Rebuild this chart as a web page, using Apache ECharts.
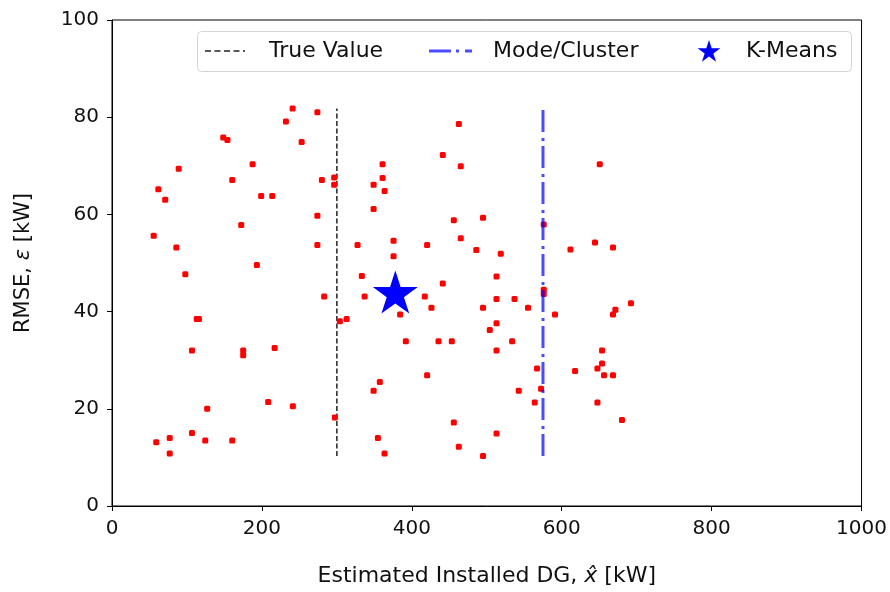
<!DOCTYPE html>
<html>
<head>
<meta charset="utf-8">
<script src="https://cdn.jsdelivr.net/npm/echarts@6/dist/echarts.min.js"></script>
<style>
  html, body { margin: 0; padding: 0; background: #fff; }
  #main { width: 890px; height: 592px; }
</style>
</head>
<body>
<div id="main"></div>
<script>
// estimated installed DG (kW) for each run
var estX = [
  241, 232, 253, 148.4, 154, 89, 187.6, 160.4, 61.8, 71,
  199, 213.8, 172.4, 55.6, 85.8, 193.3, 97.8, 274, 462.7, 361,
  441.3, 465.3, 280, 296.4, 296.4, 361, 349, 363.7, 349, 274,
  456, 495, 274, 327.6, 375.6, 420.4, 465.3, 486, 375.6, 333.3,
  441.3, 650.7, 576, 518.7, 611.6, 644.4, 668.4, 513, 576, 576,
  513, 537, 495, 555, 692.4, 671.6, 668.4, 591, 513, 504,
  533.8, 513, 653.8, 653.8, 647.6, 567, 617.8, 656.4, 668.4, 572.4,
  542.7, 564, 647.6, 680.4, 513, 495, 283, 337, 417.3, 426.2,
  384.4, 304, 313, 392, 435.6, 453.3, 420.4, 357.3, 349, 241.3,
  297.3, 456, 354.7, 462.7, 363.6, 113, 116, 106.7, 175, 175,
  217, 208.4, 127, 59, 77, 77, 106.7, 124.4, 160.4
];
// RMSE (kW) for each run
var rmseY = [
  81.8, 79.1, 74.9, 75.8, 75.3, 69.4, 70.3, 67.1, 65.2, 63,
  63.8, 63.8, 57.8, 55.6, 53.2, 49.6, 47.7, 81, 78.6, 70.3,
  72.2, 69.9, 67.1, 67.6, 66.1, 67.5, 66.1, 64.8, 61.1, 59.7,
  58.8, 59.3, 53.7, 53.7, 54.6, 53.7, 55.1, 52.7, 51.4, 47.3,
  45.8, 70.3, 57.9, 51.9, 52.8, 54.2, 53.2, 47.2, 44.5, 43.6,
  42.6, 42.6, 40.8, 40.8, 41.7, 40.4, 39.4, 39.4, 37.6, 36.2,
  33.9, 32, 32, 29.3, 28.3, 28.3, 27.8, 26.9, 26.9, 24.1,
  23.7, 21.3, 21.3, 17.7, 14.9, 10.3, 43.1, 43.1, 43.1, 40.8,
  39.4, 38, 38.5, 33.9, 33.9, 33.9, 26.9, 25.5, 23.7, 20.5,
  18.2, 17.2, 14, 12.2, 10.8, 38.5, 38.5, 32, 32, 31,
  32.5, 21.4, 20, 13.1, 14, 10.8, 15, 13.5, 13.5
];
var trueValue = 300;
var modeCluster = 575;
var lineSpan = [10.3, 81.8];
var kMeans = [378, 43.6];
var xTicks = { min: 0, max: 1000, interval: 200 };
var yTicks = { min: 0, max: 100, interval: 20 };

var FONT = 'DejaVu Sans';
var STAR = 'path://M50,0 L61.2,34.5 L97.6,34.5 L68.2,55.9 L79.4,90.5 L50,69.1 L20.6,90.5 L31.8,55.9 L2.4,34.5 L38.8,34.5 Z';

// small star polygon for the legend icon
function starPoints(cx, cy, r) {
  var pts = [];
  for (var k = 0; k < 10; k++) {
    var rr = k % 2 === 0 ? r : r * 0.382;
    var a = -Math.PI / 2 + k * Math.PI / 5;
    pts.push([cx + rr * Math.cos(a), cy + rr * Math.sin(a)]);
  }
  return pts;
}

var points = estX.map(function (x, i) { return [x, rmseY[i]]; });

var myChart = echarts.init(document.getElementById('main'));

var legendFont = '22px "DejaVu Sans"';
var plain = function (v) { return String(v); };

var option = {
  animation: false,
  grid: {
    left: 112, right: 28, top: 20, bottom: 84,
    show: true, borderColor: '#000', borderWidth: 1
  },
  xAxis: {
    type: 'value',
    min: xTicks.min, max: xTicks.max, interval: xTicks.interval,
    name: 'Estimated Installed DG, {i|x̂} [kW]',
    nameLocation: 'middle',
    nameGap: 59,
    nameTextStyle: {
      fontFamily: FONT, fontSize: 22, color: '#111',
      rich: { i: { fontFamily: FONT, fontSize: 22, fontStyle: 'italic', color: '#111' } }
    },
    axisLine: { show: true, lineStyle: { color: '#000', width: 1 } },
    axisTick: { show: true, inside: false, length: 5, lineStyle: { color: '#000' } },
    axisLabel: { fontFamily: FONT, fontSize: 20, color: '#111', margin: 13, formatter: plain },
    splitLine: { show: false }
  },
  yAxis: {
    type: 'value',
    min: yTicks.min, max: yTicks.max, interval: yTicks.interval,
    name: 'RMSE, {i|ε} [kW]',
    nameLocation: 'middle',
    nameGap: 78,
    nameTextStyle: {
      fontFamily: FONT, fontSize: 21, color: '#111',
      rich: { i: { fontFamily: FONT, fontSize: 21, fontStyle: 'italic', color: '#111' } }
    },
    axisLine: { show: true, lineStyle: { color: '#000', width: 1 } },
    axisTick: { show: true, inside: false, length: 5, lineStyle: { color: '#000' } },
    axisLabel: { fontFamily: FONT, fontSize: 20, color: '#111', margin: 13, formatter: plain },
    splitLine: { show: false }
  },
  series: [
    {
      name: 'Estimates',
      type: 'scatter',
      data: points,
      symbol: 'roundRect',
      symbolSize: 6,
      itemStyle: { color: '#ff0000', opacity: 1 },
      z: 3
    },
    {
      name: 'True Value',
      type: 'line',
      data: [[trueValue, lineSpan[0]], [trueValue, lineSpan[1]]],
      symbol: 'none',
      lineStyle: { color: '#222', width: 1.5, type: [5, 2.5] },
      z: 2
    },
    {
      name: 'Mode/Cluster',
      type: 'line',
      data: [[modeCluster, lineSpan[0]], [modeCluster, lineSpan[1]]],
      symbol: 'none',
      lineStyle: { color: 'rgba(0,0,255,0.7)', width: 3, type: [22, 5, 3, 6] },
      z: 4
    },
    {
      name: 'K-Means',
      type: 'scatter',
      data: [kMeans],
      symbol: STAR,
      symbolSize: [45, 43],
      symbolOffset: [0, -2],
      itemStyle: { color: '#0000ff', opacity: 1 },
      z: 5
    }
  ],
  graphic: [
    {
      type: 'group', z: 100,
      children: [
        { type: 'rect', shape: { x: 197.5, y: 31.5, width: 654, height: 40, r: 4 },
          style: { fill: 'rgba(255,255,255,0.8)', stroke: '#d4d4d4', lineWidth: 1 } },
        { type: 'line', shape: { x1: 205, y1: 51, x2: 245, y2: 51 },
          style: { stroke: '#222', lineWidth: 1.5, lineDash: [6, 3.5] } },
        { type: 'text', style: { x: 269, y: 51, text: 'True Value', font: legendFont, fill: '#111', verticalAlign: 'middle' } },
        { type: 'line', shape: { x1: 429, y1: 51, x2: 472, y2: 51 },
          style: { stroke: 'rgba(0,0,255,0.7)', lineWidth: 3, lineDash: [22, 5, 3, 6] } },
        { type: 'text', style: { x: 493, y: 51, text: 'Mode/Cluster', font: legendFont, fill: '#111', verticalAlign: 'middle' } },
        { type: 'polygon', shape: { points: starPoints(709, 52, 12) },
          style: { fill: '#0000ff' } },
        { type: 'text', style: { x: 746, y: 51, text: 'K-Means', font: legendFont, fill: '#111', verticalAlign: 'middle' } }
      ]
    }
  ]
};

myChart.setOption(option);
</script>
</body>
</html>
